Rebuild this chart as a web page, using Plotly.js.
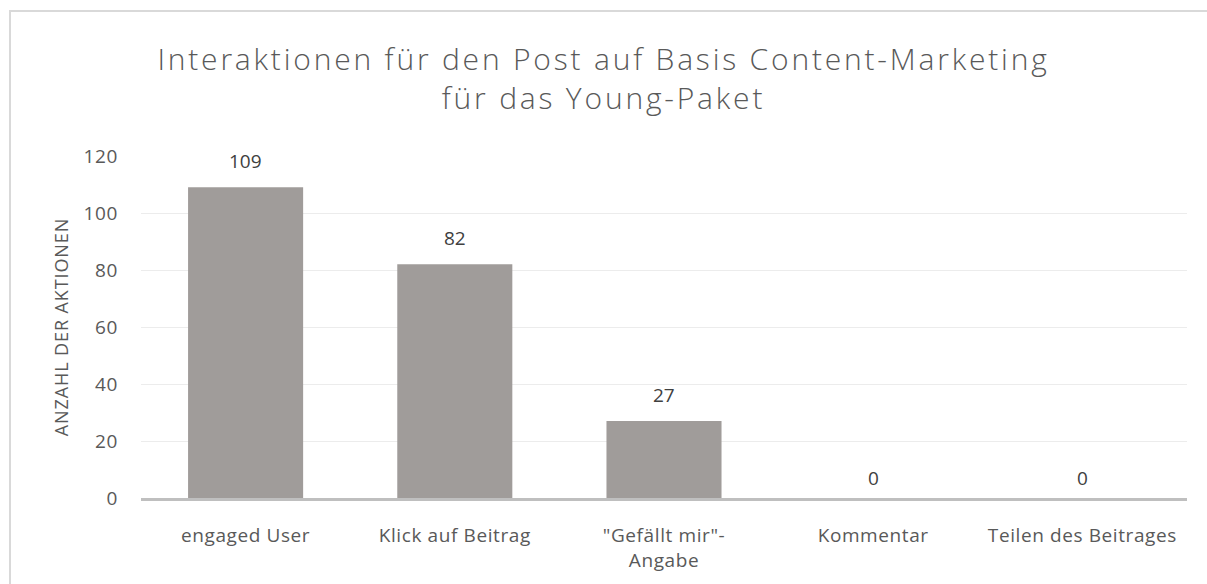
<!DOCTYPE html>
<html><head><meta charset="utf-8">
<script src="https://cdn.plot.ly/plotly-3.0.1.min.js"></script>
<style>
html,body{margin:0;padding:0;overflow:hidden;background:#fff;}
#frame{position:absolute;left:9px;top:10px;width:1400px;height:800px;border:2px solid #d9d9d9;pointer-events:none;box-sizing:border-box;}
#chart .gtitle{letter-spacing:2.8px;}
#chart .xtick text, #chart .ytick text{letter-spacing:0.6px;}
#chart .ytitle{letter-spacing:0.9px;}
</style></head>
<body>
<div id="chart" style="width:1207px;height:584px;"></div>
<div id="frame"></div>
<script>
const categories = ["engaged User", "Klick auf Beitrag", "\"Gefällt mir\"-<br>Angabe", "Kommentar", "Teilen des Beitrages"];
const values = [109, 82, 27, 0, 0];
const yTicks = [0, 20, 40, 60, 80, 100, 120];
const titleText = "Interaktionen für den Post auf Basis Content-Marketing<br>für das Young-Paket";
const yTitle = "ANZAHL DER AKTIONEN";

const font = "Open Sans, Liberation Sans, sans-serif";
const labels = categories.map((c, i) => ({
  x: c, y: values[i], xref: "x", yref: "y",
  text: String(values[i]), showarrow: false,
  yanchor: "bottom", yshift: values[i] === 0 ? 5 : 11,
  font: {family: font, size: 19, color: "#404040"}
}));

Plotly.newPlot("chart", [{
  type: "bar",
  x: categories,
  y: values,
  marker: {color: "#a09c9a", line: {width: 0}},
  hoverinfo: "none"
}], {
  width: 1207, height: 584,
  margin: {l: 141, r: 20, t: 156, b: 86},
  paper_bgcolor: "#fff", plot_bgcolor: "#fff",
  bargap: 0.45,
  showlegend: false,
  annotations: labels,
  title: {text: titleText, x: 0.5, xanchor: "center", yref: "container", y: 0.88, yanchor: "top",
          font: {family: font, size: 30, color: "#595959", weight: 300}},
  xaxis: {showgrid: false, showline: true, linecolor: "#bfbfbf", linewidth: 3,
          ticks: "", ticklabelstandoff: 18, tickfont: {family: font, size: 19, color: "#595959"},
          fixedrange: true},
  yaxis: {range: [0, 120], tickvals: yTicks, ticktext: yTicks.map(String),
          showgrid: true, gridcolor: "#ececec", gridwidth: 1, zeroline: false, showline: false,
          ticks: "", ticklabelstandoff: 22, tickfont: {family: font, size: 19, color: "#595959"},
          title: {text: yTitle, standoff: 12, font: {family: font, size: 18, color: "#595959"}},
          fixedrange: true}
}, {displayModeBar: false, staticPlot: true});
</script>
</body></html>
